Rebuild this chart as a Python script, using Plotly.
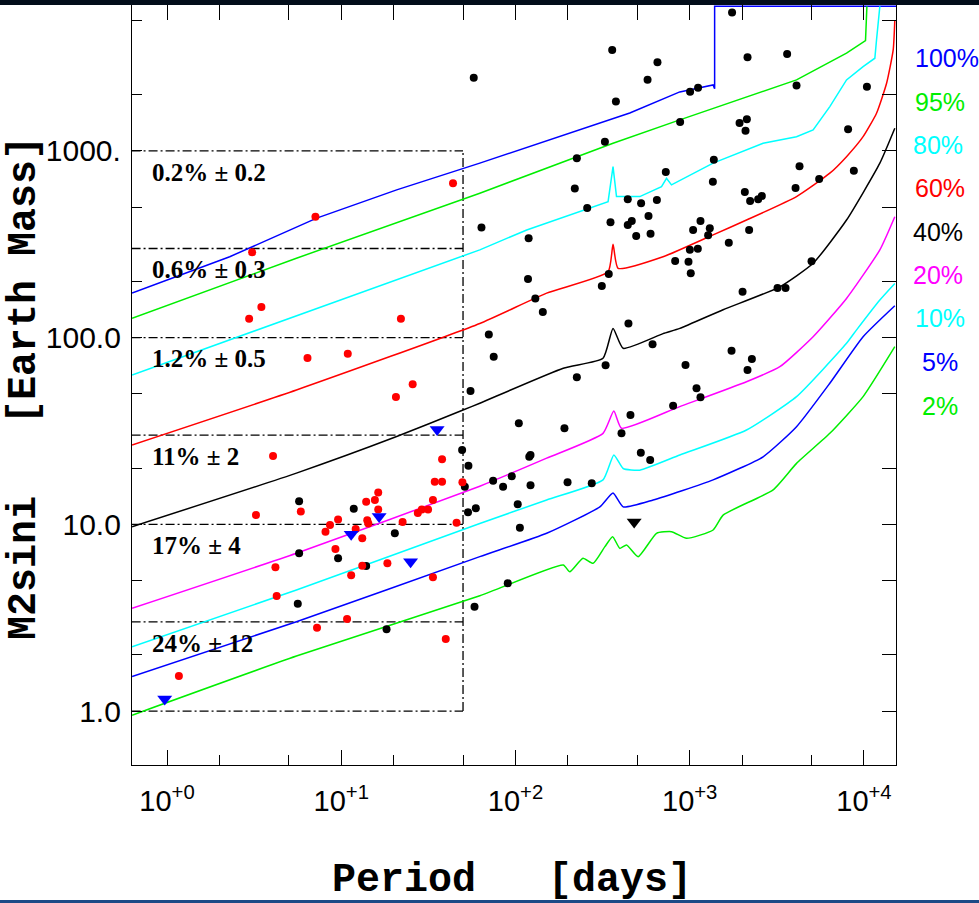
import numpy as np
import plotly.graph_objects as go

# ---------------- data ----------------
# detection-limit curves (period [days], M2 sin i [Earth masses])
p100 = [0.63, 2.29, 7.23, 20.8, 62.4, 234, 453, 877, 1362, 1390, 1390, 16000]
m100 = [173, 271, 436, 618, 859, 1294, 1596, 2068, 2254, 2150, 5950, 5950]

p95 = [0.63, 5.53, 62.4, 363, 877, 2118, 4103, 7943, 10210, 10400]
m95 = [127, 266, 593, 1099, 1465, 1951, 2398, 3334, 3893, 5950]

p80 = [0.63, 5.53, 62.4, 116, 340, 363, 380, 517, 689, 736, 786, 1362, 2638, 4103,
       5109, 6370, 7943, 9890, 11550, 11810, 12340]
m80 = [63.0, 131, 295, 377, 534, 823, 569, 569, 643, 713, 657, 859, 1099, 1191,
       1294, 1725, 2398, 2825, 3133, 3927, 5950]

p60 = [0.63, 5.53, 62.4, 151, 340, 363, 388, 703, 1362, 2118, 4103, 6370, 7943, 9890,
       11810, 13490, 14720, 15040]
m60 = [26.6, 52.4, 119, 173, 225, 316, 235, 271, 355, 426, 569, 759, 931, 1191,
       1590, 2301, 3470, 5024]

p40 = [0.63, 5.53, 20.8, 50.0, 62.4, 188, 318, 363, 415, 703, 877, 1555, 3291, 5109,
       7943, 12340, 15040]
m40 = [9.71, 18.8, 29.5, 40.9, 44.5, 68.5, 77.5, 112, 87.6, 105, 112, 141, 187, 250,
       426, 859, 1321]

p20 = [0.63, 5.53, 62.4, 151, 318, 367, 406, 877, 2118, 3291, 5109, 7943, 12340, 15040]
m20 = [3.55, 7.0, 16.0, 22.6, 30.7, 40.4, 32.7, 42.7, 58.0, 69.8, 101, 162, 295, 444]

p10 = [0.63, 5.53, 62.4, 151, 318, 367, 415, 517, 877, 2118, 4103, 7943, 9074, 12340, 15040]
m10 = [2.21, 4.45, 10.1, 13.5, 17.3, 23.5, 19.9, 19.5, 23.5, 32.0, 48.3, 93.2, 110, 159, 195]

p05 = [0.63, 5.53, 62.4, 151, 305, 363, 415, 617, 1362, 2638, 4103, 6370, 9890, 15040]
m05 = [1.53, 3.01, 6.71, 8.95, 12.4, 14.7, 12.4, 13.5, 17.3, 23.0, 33.3, 56.9, 101, 148]

p02 = [0.63, 5.53, 62.4, 188, 205, 244, 279, 326, 361, 397, 434, 506, 645, 786, 959,
       1362, 1555, 3012, 4103, 6370, 9890, 15040]
m02 = [0.95, 1.97, 4.14, 6.05, 5.57, 6.58, 6.18, 7.59, 8.58, 7.43, 7.75, 6.71, 8.95,
       9.13, 8.41, 9.32, 11.2, 15.3, 21.2, 30.7, 48.3, 89.4]

curve_names = ["100%", "95%", "80%", "60%", "40%", "20%", "10%", "5%", "2%"]

# known planets (black dots)
black_p = [1750, 359, 57.6, 653, 573, 377, 1005, 1117, 2147, 3624, 4103, 10400, 881, 326,
           225, 1932, 2128, 2091, 8110, 1375, 4268, 8750, 219, 729, 1358, 5533, 258, 4050,
           2072, 2222, 2471, 2594, 441, 526, 648, 580, 351, 441, 465, 493, 596, 63.8, 119,
           1046, 1153, 1304, 1276, 2193, 1676, 1002, 1113, 825, 984, 1014, 118, 130, 143.5,
           313, 343, 445, 2011, 3192, 3548, 5003, 70.3, 75, 612, 329, 225, 946, 1738, 2274,
           2147, 1094, 1153, 803, 457, 406, 104.5, 191, 122, 120, 524, 593, 74.4, 84.9,
           95.2, 122, 199, 274, 103, 106, 90.3,
           5.73, 11.8, 5.73, 9.59, 20.3, 13.9, 5.63, 18.2, 49.4, 53.7, 51.2, 53.4, 59.2,
           58.2, 55.2]
black_m = [5500, 3470, 2460, 2985, 2400, 1835, 2075, 2180, 3170, 3305, 2235, 2207, 1428, 1120,
           913, 1410, 1476, 1283, 1306, 897, 827, 783, 628, 771, 684, 707, 494, 633,
           602, 539, 550, 573, 550, 524, 546, 448, 415, 401, 421, 350, 360, 388, 340,
           377, 421, 385, 353, 377, 322, 295, 299, 257, 255, 221, 206, 162, 137,
           189, 219, 119, 176, 184, 184, 256, 104, 79, 92, 71.1, 61.3, 71.3, 85.1, 76.8,
           67.0, 53.5, 47.9, 43.2, 38.5, 30.7, 34.8, 32.7, 23.5, 23.0, 24.2, 22.1, 17.1, 15.9,
           18.1, 16.2, 16.8, 16.6, 12.8, 9.59, 4.83,
           13.3, 12.1, 7.0, 6.58, 8.95, 5.98, 3.76, 2.74, 25.0, 20.6, 15.9, 11.6, 12.2,
           3.62, 51.8]

# red dots
red_p = [43.8, 7.11, 3.08, 3.48, 2.96, 22.0, 6.40, 10.9, 25.7, 20.6, 4.06, 37.9, 34.4, 37.9,
         49.6, 3.24, 5.86, 16.3, 15.6, 13.9, 33.6, 31.5, 29.0, 27.5, 9.59, 8.62, 8.12, 16.3,
         14.1, 14.3, 12.1, 13.2, 22.5, 45.9, 9.26, 4.19, 13.2, 18.4, 11.4, 4.26, 33.6, 10.8,
         7.26, 39.8, 1.17]
red_m = [670, 444, 286, 146, 126, 126, 77.8, 82.0, 56.2, 48.1, 23.2, 22.3, 16.9, 16.9,
         16.8, 11.2, 11.7, 14.8, 13.5, 13.2, 13.5, 12.0, 12.0, 11.5, 10.6, 9.92, 9.13, 12.0,
         10.5, 10.1, 9.44, 8.41, 10.3, 10.2, 7.37, 5.88, 6.0, 6.18, 5.33, 4.13, 5.20, 3.11,
         2.79, 2.43, 1.54]

# upper limits (triangles)
blue_tri_p = [35.5, 16.5, 11.4, 25.0, 0.97]
blue_tri_m = [32.2, 11.0, 8.84, 6.31, 1.16]
black_tri_p = [480]
black_tri_m = [10.3]

# dash-dot boxes: mass levels, period edge and labels
box_levels = [1000, 300, 100, 30, 10, 3, 1]
box_period_edge = 50
box_labels = ["0.2% \u00b1 0.2", "0.6% \u00b1 0.3", "1.2% \u00b1 0.5",
              "11% \u00b1 2", "17% \u00b1 4", "24% \u00b1 12"]

x_major = [1, 10, 100, 1000, 10000]
x_major_text = ["10<sup>+0</sup>", "10<sup>+1</sup>", "10<sup>+2</sup>",
                "10<sup>+3</sup>", "10<sup>+4</sup>"]
y_major = [1, 10, 100, 1000]
y_major_text = ["1.0", "10.0", "100.0", "1000."]

# ---------------- figure ----------------
XR = [-0.201, 4.184]
YR = [-0.289, 3.781]
W, H = 979, 903
ML, MR, MT, MB = 132, 83, 5, 138

x_minor = [m * 10 ** e for e in range(-1, 5) for m in (2, 5)]
x_minor = [v for v in x_minor if 10 ** XR[0] <= v <= 10 ** XR[1]]
y_minor = [m * 10 ** e for e in range(-1, 4) for m in (2, 5)]
y_minor = [v for v in y_minor if 10 ** YR[0] <= v <= 10 ** YR[1]]

fig = go.Figure()

# boxes
bx, by = [], []
for lv in box_levels:
    bx += [0.5, box_period_edge, None]
    by += [lv, lv, None]
bx += [box_period_edge, box_period_edge]
by += [min(box_levels), max(box_levels)]
fig.add_trace(go.Scatter(x=bx, y=by, mode="lines",
                         line=dict(color="black", width=1.3, dash="9px,3px,2px,3px"),
                         hoverinfo="skip", showlegend=False))

curves = [(p100, m100, "#0000ff"), (p95, m95, "#00ee00"), (p80, m80, "#00ffff"),
          (p60, m60, "#ff0000"), (p40, m40, "#000000"), (p20, m20, "#ff00ff"),
          (p10, m10, "#00ffff"), (p05, m05, "#0000ff"), (p02, m02, "#00ee00")]
smooth_ok = [False, False, False, True, True, True, True, True, True]
for (px, my, col), name, sm in zip(curves, curve_names, smooth_ok):
    ln = dict(color=col, width=1.5)
    if sm:
        ln.update(shape="spline", smoothing=0.5)
    fig.add_trace(go.Scatter(x=px, y=my, mode="lines", name=name, line=ln,
                             hoverinfo="skip", showlegend=False))

fig.add_trace(go.Scatter(x=black_p, y=black_m, mode="markers",
                         marker=dict(color="black", size=8, symbol="circle"),
                         showlegend=False))
fig.add_trace(go.Scatter(x=red_p, y=red_m, mode="markers",
                         marker=dict(color="#ff0000", size=8, symbol="circle"),
                         showlegend=False))
fig.add_trace(go.Scatter(x=blue_tri_p, y=blue_tri_m, mode="markers",
                         marker=dict(color="#0000ff", size=13, symbol="triangle-down"),
                         showlegend=False))
fig.add_trace(go.Scatter(x=black_tri_p, y=black_tri_m, mode="markers",
                         marker=dict(color="black", size=13, symbol="triangle-down"),
                         showlegend=False))
# invisible point so the top/right tick axes get drawn
fig.add_trace(go.Scatter(x=[1], y=[1], xaxis="x2", yaxis="y2", mode="markers",
                         marker=dict(opacity=0), hoverinfo="skip", showlegend=False))

xtickfont = dict(family="Liberation Sans, Arial, sans-serif", size=29, color="black")
ytickfont = dict(family="Liberation Sans, Arial, sans-serif", size=30, color="black")
fig.update_layout(
    width=W, height=H, margin=dict(l=ML, r=MR, t=MT, b=MB),
    paper_bgcolor="white", plot_bgcolor="white",
    xaxis=dict(type="log", range=XR, showgrid=False, zeroline=False,
               showline=True, linecolor="black", linewidth=1.2, mirror=True,
               ticks="inside", ticklen=15, tickcolor="black", tickwidth=1,
               tickvals=x_major, ticktext=x_major_text, tickfont=xtickfont,
               ticklabelstandoff=10,
               minor=dict(tickvals=x_minor, ticks="inside", ticklen=10,
                          tickcolor="black", tickwidth=1, showgrid=False)),
    yaxis=dict(type="log", range=YR, showgrid=False, zeroline=False,
               showline=True, linecolor="black", linewidth=1.2, mirror=True,
               ticks="inside", ticklen=10, tickcolor="black", tickwidth=1,
               tickvals=y_major, ticktext=y_major_text, tickfont=ytickfont,
               ticklabelstandoff=4,
               minor=dict(tickvals=y_minor, ticks="inside", ticklen=10,
                          tickcolor="black", tickwidth=1, showgrid=False)),
    xaxis2=dict(type="log", range=XR, overlaying="x", side="top", anchor="y",
                showgrid=False, zeroline=False, showline=False,
                ticks="inside", ticklen=15, tickcolor="black", tickwidth=1,
                tickvals=sorted(x_major + x_minor), showticklabels=False),
    yaxis2=dict(type="log", range=YR, overlaying="y", side="right", anchor="x",
                showgrid=False, zeroline=False, showline=False,
                ticks="inside", ticklen=14, tickcolor="black", tickwidth=1,
                tickvals=sorted(y_major + y_minor), showticklabels=False),
)

ann = []
# box labels
for top, txt in zip(box_levels[:-1], box_labels):
    ann.append(dict(x=np.log10(0.8), y=np.log10(top / 1.3), xref="x", yref="y",
                    text=txt, showarrow=False, xanchor="left", yanchor="middle",
                    font=dict(family="Liberation Serif, Times New Roman, serif",
                              size=25, color="black", weight="bold")))
# right-hand percentage labels
lab_cols = ["#0000ff", "#00ee00", "#00ffff", "#ff0000", "#000000", "#ff00ff",
            "#00ffff", "#0000ff", "#00ee00"]
lab_px = [913, 913, 911, 913, 911, 911, 913, 920, 920]
lab_py = [58.3, 101.7, 145, 188.3, 231.7, 275, 318.3, 361.7, 406]
pw, ph = W - ML - MR, H - MT - MB
for name, col, lx, ly in zip(curve_names, lab_cols, lab_px, lab_py):
    ann.append(dict(x=(lx - ML) / pw, y=(H - MB - ly) / ph, xref="paper", yref="paper",
                    text=name, showarrow=False, xanchor="left", yanchor="middle",
                    font=dict(family="Liberation Sans, Arial, sans-serif", size=25, color=col)))
# axis titles
nb = "\u00a0"
titlefont = dict(family="Liberation Mono, Courier New, monospace", size=40,
                 color="black", weight="bold")
ann.append(dict(x=(511.5 - ML) / pw, y=(H - MB - 880) / ph, xref="paper", yref="paper",
                text="Period" + nb * 3 + "[days]", showarrow=False,
                xanchor="center", yanchor="middle", font=titlefont))
ann.append(dict(x=(24 - ML) / pw, y=(H - MB - 388) / ph, xref="paper", yref="paper",
                text="M2sini" + nb * 3 + "[Earth Mass]", showarrow=False, textangle=-90,
                xanchor="center", yanchor="middle", font=titlefont))
fig.update_layout(annotations=ann)

# frame decorations: dark band on top, blue rule at bottom
fig.add_shape(type="rect", xref="paper", yref="paper", x0=-ML / pw, x1=1 + MR / pw,
              y0=1.0, y1=1 + MT / ph + 0.01, fillcolor="#020d1a", line_width=0, layer="above")
fig.add_shape(type="rect", xref="paper", yref="paper", x0=-ML / pw, x1=1 + MR / pw,
              y0=-(900 - (H - MB)) / ph, y1=-(905 - (H - MB)) / ph,
              fillcolor="#1d4a86", line_width=0, layer="above")

fig.write_html("out.html")
